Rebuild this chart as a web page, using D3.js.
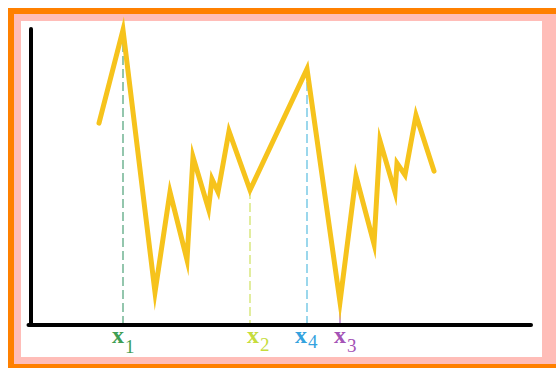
<!DOCTYPE html>
<html>
<head>
<meta charset="utf-8">
<script src="https://cdn.jsdelivr.net/npm/d3@7"></script>
<style>
  html, body { margin: 0; padding: 0; background: #fff; overflow: hidden; }
  svg { display: block; }
</style>
</head>
<body>
<svg id="chart" width="556" height="368"></svg>
<script>

// series (x in 0..100, y in 0..100)
var times  = [13.6, 18.4, 24.8, 27.8, 31.2, 32.4, 35.5, 36.2, 37.4, 39.6, 43.8,
              55.2, 61.8, 65.0, 68.6, 69.8, 72.8, 73.2, 74.8, 77.0, 80.6];
var values = [68.2, 99.7, 11.1, 44.9, 22.0, 56.8, 39.2, 49.3, 44.9, 65.5, 45.6,
              86.5, 7.8, 50.3, 27.4, 62.2, 44.9, 54.7, 50.7, 70.9, 52.0];

// marked points on the x axis
var marker_names = ['x', 'x', 'x', 'x'];
var marker_subs  = ['1', '2', '4', '3'];
var marker_index = [1, 10, 11, 12];
var marker_colors = ['#3f9e55', '#c6dc3c', '#34a2de', '#a453b6'];
var marker_lines  = ['#5aa882', '#d3e46c', '#66c2e2', '#b070c4'];

var svg = d3.select('#chart');

// frame (the right edge is cut off in the original)
svg.append('rect').attr('x', 8).attr('y', 8).attr('width', 548).attr('height', 360).attr('fill', '#ff8000');
svg.append('rect').attr('x', 14).attr('y', 14).attr('width', 542).attr('height', 350).attr('fill', '#ffbdb8');
svg.append('rect').attr('x', 21).attr('y', 21).attr('width', 521).attr('height', 336).attr('fill', '#ffffff');

var x = d3.scaleLinear().domain([0, 100]).range([31, 531]);
var y = d3.scaleLinear().domain([0, 100]).range([325, 29]);

var data = times.map((t, i) => {return {'t' : t, 'v' : values[i]}});

var markers = marker_index.map((k, i) => {return {'t' : times[k], 'v' : values[k], 'name' : marker_names[i],
                                                    'sub' : marker_subs[i], 'color' : marker_colors[i], 'line' : marker_lines[i]}});

// dashed drop lines
svg.append('g')
   .selectAll('line')
   .data(markers)
   .enter()
   .append('line')
   .attr('x1', d => x(d.t))
   .attr('x2', d => x(d.t))
   .attr('y1', d => y(d.v))
   .attr('y2', y(0))
   .attr('stroke', d => d.line)
   .attr('stroke-width', 1.3)
   .attr('stroke-dasharray', (d, i) => (i == 3) ? null : '9,4');

// axes
var axis_color = '#000';
svg.append('line')
   .attr('x1', x(0)).attr('x2', x(0))
   .attr('y1', y(100)).attr('y2', y(0))
   .attr('stroke', axis_color).attr('stroke-width', 4).attr('stroke-linecap', 'round');

svg.append('line')
   .attr('x1', x(-0.5)).attr('x2', x(100))
   .attr('y1', y(0)).attr('y2', y(0))
   .attr('stroke', axis_color).attr('stroke-width', 4).attr('stroke-linecap', 'round');

// main line
var line = d3.line().x(d => x(d.t)).y(d => y(d.v));

svg.append('path')
   .datum(data)
   .attr('d', line)
   .attr('fill', 'none')
   .attr('stroke', '#f6c31c')
   .attr('stroke-width', 5)
   .attr('stroke-linejoin', 'miter')
   .attr('stroke-miterlimit', 10)
   .attr('stroke-linecap', 'round');

// labels
var label_dx = [-11, -3, -12, -6];
var sub_dy   = [10, 8, 5, 9];

var labels = svg.append('g')
   .selectAll('text')
   .data(markers)
   .enter()
   .append('text')
   .attr('x', (d, i) => x(d.t) + label_dx[i])
   .attr('y', 343)
   .attr('font-family', '"Liberation Serif", "DejaVu Serif", serif')
   .attr('font-weight', 'bold')
   .attr('fill', d => d.color);

labels.append('tspan')
      .text(d => d.name)
      .attr('font-size', 24);

labels.append('tspan')
      .text(d => d.sub)
      .attr('dx', 1)
      .attr('dy', (d, i) => sub_dy[i])
      .attr('font-size', 19)
      .attr('font-weight', 'normal');

</script>
</body>
</html>
